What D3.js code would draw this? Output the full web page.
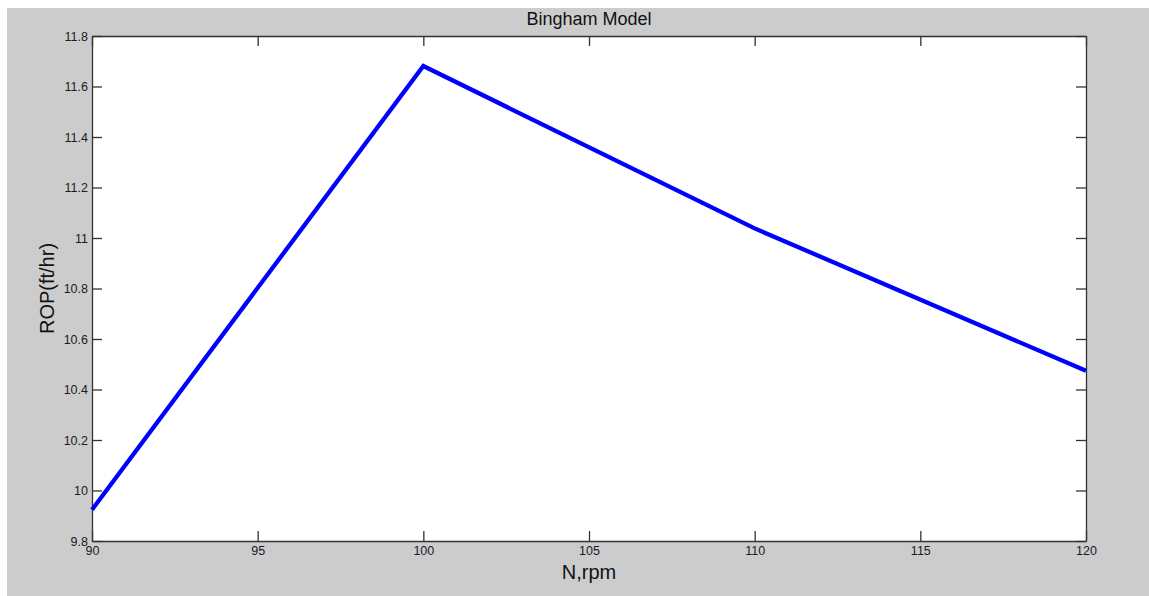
<!DOCTYPE html>
<html><head><meta charset="utf-8">
<script src="https://cdn.jsdelivr.net/npm/d3@7"></script>
<style>
html,body{margin:0;padding:0;background:#fff;}
svg{display:block;}
text{font-family:"Liberation Sans",Arial,sans-serif;}
</style></head>
<body>
<script>
const rpm = [90, 100, 110, 120];
const rop = [9.924, 11.681, 11.038, 10.474];
const xTicks = [90, 95, 100, 105, 110, 115, 120];
const yTicks = [9.8, 10, 10.2, 10.4, 10.6, 10.8, 11, 11.2, 11.4, 11.6, 11.8];
const title = "Bingham Model";
const xLabel = "N,rpm";
const yLabel = "ROP(ft/hr)";

const W = 1149, H = 596;
const L = 92, R = 1086, T = 36, B = 541;

const svg = d3.select("body").append("svg").attr("width", W).attr("height", H);
svg.append("rect").attr("x", 7).attr("y", 8).attr("width", W - 7).attr("height", H - 8).attr("fill", "#cccccc");
svg.append("rect").attr("x", L).attr("y", T).attr("width", R - L).attr("height", B - T).attr("fill", "#ffffff");

const x = d3.scaleLinear().domain([90, 120]).range([L, R]);
const y = d3.scaleLinear().domain([9.8, 11.8]).range([B, T]);

const fmt = d => String(+d.toFixed(1));
const axColor = "#333333";

function styleAxis(g) {
  g.selectAll("path.domain").attr("stroke", axColor).attr("stroke-width", 1.3);
  g.selectAll(".tick line").attr("stroke", axColor).attr("stroke-width", 1.3);
  g.selectAll(".tick text").attr("fill", "#1a1a2a").style("font-size", "12.5px")
    .style("font-family", '"Liberation Sans",Arial,sans-serif');
}

const gB = svg.append("g").attr("transform", `translate(0,${B})`)
  .call(d3.axisBottom(x).tickValues(xTicks).tickFormat(fmt).tickSizeInner(-10).tickSizeOuter(0).tickPadding(5));
styleAxis(gB);
const gT = svg.append("g").attr("transform", `translate(0,${T})`)
  .call(d3.axisTop(x).tickValues(xTicks).tickFormat("").tickSizeInner(-10).tickSizeOuter(0));
styleAxis(gT);
const gL = svg.append("g").attr("transform", `translate(${L},0)`)
  .call(d3.axisLeft(y).tickValues(yTicks).tickFormat(fmt).tickSizeInner(-10).tickSizeOuter(0).tickPadding(4));
styleAxis(gL);
gL.selectAll(".tick text").attr("x", -4);
const gR = svg.append("g").attr("transform", `translate(${R},0)`)
  .call(d3.axisRight(y).tickValues(yTicks).tickFormat("").tickSizeInner(-10).tickSizeOuter(0));
styleAxis(gR);

const line = d3.line().x((d, i) => x(rpm[i])).y(d => y(d));
svg.append("path").datum(rop).attr("d", line)
  .attr("fill", "none").attr("stroke", "#0000ff").attr("stroke-width", 4.3)
  .attr("stroke-linejoin", "miter");

svg.append("text").attr("x", (L + R) / 2).attr("y", 25).attr("text-anchor", "middle")
  .style("font-size", "18px").attr("fill", "#111").text(title);
svg.append("text").attr("x", (L + R) / 2).attr("y", 579).attr("text-anchor", "middle")
  .style("font-size", "20px").attr("fill", "#111").text(xLabel);
svg.append("text").attr("transform", `translate(54,${(T + B) / 2}) rotate(-90)`).attr("text-anchor", "middle")
  .style("font-size", "20px").attr("fill", "#111").text(yLabel);
</script>
</body></html>
